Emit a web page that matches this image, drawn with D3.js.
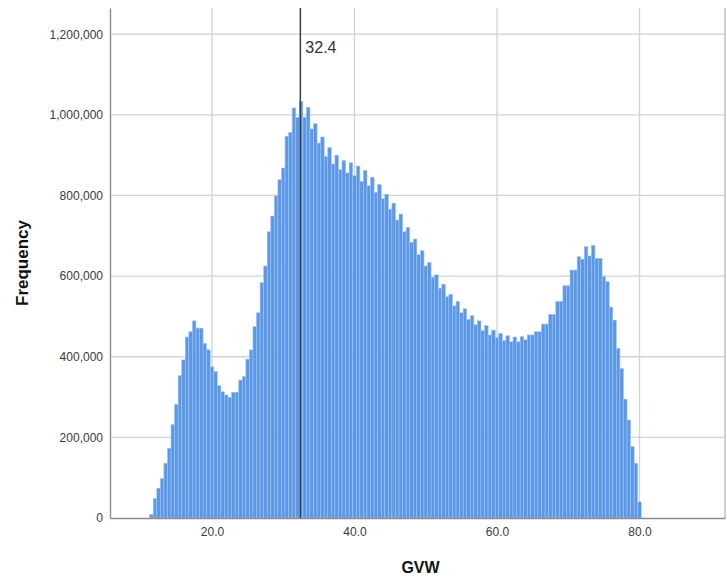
<!DOCTYPE html>
<html>
<head>
<meta charset="utf-8">
<script src="https://cdn.jsdelivr.net/npm/d3@7"></script>
<style>
  html, body { margin: 0; padding: 0; background: #ffffff; }
  svg { display: block; font-family: "Liberation Sans", Arial, sans-serif; }
</style>
</head>
<body>
<svg id="chart" width="727" height="577"></svg>
<script>
// Histogram of GVW: bins of 0.5 starting at 11.25
const binStart = 11.25;
const binWidth = 0.5;
const frequencies = [
  9000, 48000, 74000, 98000, 136000, 173000, 232000, 282000, 353000, 392000,
  449000, 462000, 489000, 471000, 471000, 433000, 417000, 375000, 363000, 328000,
  313000, 305000, 299000, 312000, 312000, 342000, 351000, 394000, 417000, 475000,
  509000, 584000, 625000, 710000, 749000, 799000, 839000, 868000, 947000, 956000,
  1017000, 994000, 1033000, 994000, 1019000, 965000, 978000, 930000, 945000, 897000,
  919000, 878000, 900000, 864000, 887000, 856000, 881000, 849000, 873000, 835000,
  862000, 824000, 845000, 808000, 827000, 792000, 803000, 766000, 781000, 739000,
  754000, 710000, 721000, 684000, 692000, 653000, 663000, 625000, 634000, 597000,
  603000, 570000, 580000, 549000, 555000, 526000, 537000, 509000, 519000, 493000,
  502000, 479000, 489000, 465000, 477000, 454000, 466000, 448000, 458000, 440000,
  452000, 437000, 449000, 437000, 450000, 442000, 454000, 454000, 462000, 462000,
  481000, 481000, 505000, 505000, 537000, 537000, 576000, 576000, 615000, 615000,
  648000, 642000, 673000, 650000, 676000, 644000, 644000, 599000, 586000, 523000,
  491000, 421000, 371000, 295000, 243000, 177000, 136000, 40000
];
const xTickValues = [20, 40, 60, 80];
const yTickValues = [0, 200000, 400000, 600000, 800000, 1000000, 1200000];
const meanValue = 32.4;
const xTitle = "GVW";
const yTitle = "Frequency";

const bins = frequencies.map((f, i) => ({
  x0: binStart + i * binWidth,
  x1: binStart + (i + 1) * binWidth,
  count: f
}));

const svg = d3.select("#chart");
const plot = { left: 110, right: 725, top: 8, bottom: 518 };

const x = d3.scaleLinear().domain([5.684, 92]).range([plot.left, plot.right]);
const y = d3.scaleLinear().domain([0, 1265000]).range([plot.bottom, plot.top]);

// grid
const grid = svg.append("g").attr("stroke", "#d3d3d3").attr("stroke-width", 1.3);
grid.selectAll("line.h").data(yTickValues.filter(d => d > 0)).join("line")
  .attr("class", "h")
  .attr("x1", plot.left).attr("x2", plot.right)
  .attr("y1", d => y(d)).attr("y2", d => y(d));
grid.selectAll("line.v").data(xTickValues).join("line")
  .attr("class", "v")
  .attr("y1", plot.top).attr("y2", plot.bottom)
  .attr("x1", d => x(d)).attr("x2", d => x(d));

// right frame
svg.append("line")
  .attr("x1", plot.right).attr("x2", plot.right).attr("y1", plot.top).attr("y2", plot.bottom)
  .attr("stroke", "#b8b8b8").attr("stroke-width", 1.3);

// bars
svg.append("g").selectAll("rect").data(bins).join("rect")
  .attr("x", d => x(d.x0))
  .attr("width", d => x(d.x1) - x(d.x0))
  .attr("y", d => y(d.count))
  .attr("height", d => y(0) - y(d.count))
  .attr("fill", "#5a97e6")
  .attr("stroke", "#a3c4f0")
  .attr("stroke-width", 0.6);

// axes
const yAxis = svg.append("g")
  .attr("transform", `translate(${plot.left},0)`)
  .call(d3.axisLeft(y).tickValues(yTickValues).tickFormat(d3.format(",")).tickSize(0).tickPadding(7));
yAxis.select(".domain").attr("stroke", "#8c8c8c").attr("stroke-width", 1.4);
yAxis.selectAll("text").attr("font-size", 12).attr("fill", "#3a3a3a");

const xAxis = svg.append("g")
  .attr("transform", `translate(0,${plot.bottom})`)
  .call(d3.axisBottom(x).tickValues(xTickValues).tickFormat(d3.format(".1f")).tickSize(0).tickPadding(9));
xAxis.select(".domain").attr("stroke", "#8c8c8c").attr("stroke-width", 1.4);
xAxis.selectAll("text").attr("font-size", 12).attr("fill", "#3a3a3a");

// mean reference line
svg.append("line")
  .attr("x1", x(meanValue)).attr("x2", x(meanValue))
  .attr("y1", plot.top).attr("y2", plot.bottom)
  .attr("stroke", "#3c3c3c").attr("stroke-width", 1.5);
svg.append("text")
  .attr("x", x(meanValue) + 5).attr("y", 53)
  .attr("font-size", 16).attr("fill", "#333")
  .text(meanValue.toFixed(1));

// titles
svg.append("text")
  .attr("x", (plot.left + plot.right) / 2 + 3).attr("y", 573)
  .attr("text-anchor", "middle").attr("font-size", 16).attr("font-weight", "bold").attr("fill", "#111")
  .text(xTitle);
svg.append("text")
  .attr("transform", `translate(28,${(plot.top + plot.bottom) / 2}) rotate(-90)`)
  .attr("text-anchor", "middle").attr("font-size", 17).attr("font-weight", "bold").attr("fill", "#111")
  .text(yTitle);
</script>
</body>
</html>
